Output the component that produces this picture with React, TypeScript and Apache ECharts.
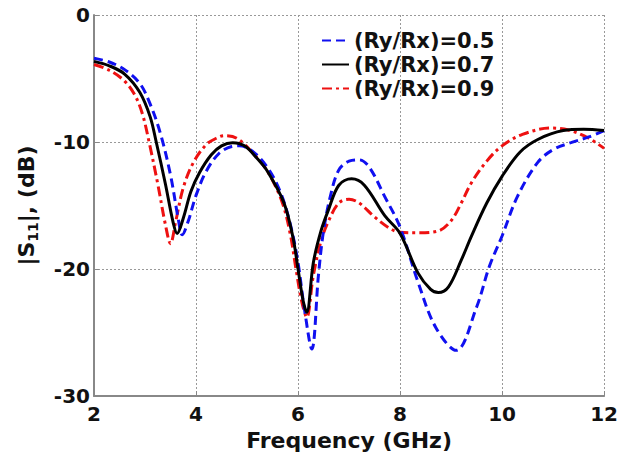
import React, { useEffect, useRef } from "react";
import * as echarts from "echarts";

const seriesNames = ["(Ry/Rx)=0.5", "(Ry/Rx)=0.7", "(Ry/Rx)=0.9"];
const xTicks = [2, 4, 6, 8, 10, 12];
const yTicks = [-30, -20, -10, 0];

const freq05 = [2.0, 2.3, 2.6, 2.9, 3.1, 3.3, 3.5, 3.65, 3.73, 3.85, 4.0, 4.2, 4.45, 4.7, 4.85, 5.1, 5.4, 5.65, 5.85, 6.0, 6.12, 6.27, 6.4, 6.5, 6.65, 6.8, 7.0, 7.2, 7.4, 7.7, 8.0, 8.35, 8.7, 9.1, 9.5, 9.75, 10.0, 10.3, 10.7, 11.0, 11.35, 11.7, 12.0];
const s11_05 = [-3.4, -3.7, -4.3, -5.4, -7.0, -9.3, -12.6, -16.0, -17.3, -16.2, -14.2, -12.3, -10.9, -10.35, -10.3, -10.7, -12.0, -13.9, -16.5, -19.5, -23.0, -26.3, -20.5, -17.0, -14.0, -12.2, -11.5, -11.4, -12.0, -14.3, -16.7, -21.0, -24.6, -26.4, -23.0, -19.8, -17.4, -14.3, -11.6, -10.6, -10.05, -9.6, -9.1];

const freq07 = [2.0, 2.3, 2.6, 2.9, 3.1, 3.22, 3.4, 3.55, 3.63, 3.75, 3.9, 4.07, 4.3, 4.5, 4.72, 4.95, 5.2, 5.4, 5.72, 5.9, 6.0, 6.1, 6.17, 6.3, 6.45, 6.6, 6.8, 7.05, 7.3, 7.7, 8.0, 8.35, 8.6, 8.75, 8.95, 9.2, 9.4, 9.7, 10.0, 10.35, 10.7, 11.2, 11.6, 12.0];
const s11_07 = [-3.65, -4.0, -4.65, -6.1, -8.0, -10.0, -13.3, -16.3, -17.2, -16.0, -13.9, -12.4, -11.0, -10.3, -10.05, -10.3, -11.3, -12.3, -14.75, -17.5, -20.0, -22.5, -23.4, -19.5, -17.0, -15.3, -13.4, -12.9, -13.4, -15.8, -17.2, -20.3, -21.6, -21.85, -21.4, -19.3, -17.4, -14.8, -12.7, -10.8, -9.8, -9.1, -9.0, -9.1];

const freq09 = [2.0, 2.3, 2.6, 2.8, 2.95, 3.08, 3.25, 3.4, 3.5, 3.6, 3.75, 3.95, 4.2, 4.4, 4.55, 4.8, 5.1, 5.4, 5.69, 5.85, 5.96, 6.07, 6.17, 6.3, 6.45, 6.6, 6.8, 7.0, 7.2, 7.5, 7.8, 8.0, 8.35, 8.75, 9.0, 9.2, 9.4, 9.7, 10.0, 10.4, 10.95, 11.3, 11.7, 12.0];
const s11_09 = [-3.9, -4.35, -5.2, -6.3, -7.8, -10.0, -13.3, -16.5, -18.0, -16.3, -13.6, -11.6, -10.2, -9.7, -9.5, -9.7, -10.8, -12.3, -14.75, -17.3, -20.0, -22.5, -23.8, -20.5, -17.8, -16.2, -14.8, -14.5, -14.8, -15.9, -16.8, -17.1, -17.15, -17.0, -16.2, -14.8, -13.2, -11.5, -10.3, -9.4, -8.9, -9.05, -9.7, -10.5];

const zip = (xs: number[], ys: number[]) => xs.map((x, i) => [x, ys[i]]);

const FONT = "DejaVu Sans";

export default function App() {
  const ref = useRef<HTMLDivElement>(null);
  useEffect(() => {
    document.body.style.margin = "0";
    const chart = echarts.init(ref.current!, undefined, { renderer: "svg" });
    const common = { type: "line", showSymbol: false, symbol: "none", smooth: 0.35 };
    chart.setOption({
      animation: false,
      backgroundColor: "#fff",
      textStyle: { fontFamily: FONT },
      grid: { left: 94, top: 15, right: 14, bottom: 58 },
      legend: {
        orient: "vertical",
        left: 316,
        top: 25,
        itemWidth: 27,
        itemHeight: 14,
        itemGap: 3,
        itemStyle: { opacity: 0 },
        textStyle: { fontFamily: FONT, fontWeight: "bold", fontSize: 21, color: "#111" },
        data: seriesNames,
      },
      xAxis: {
        type: "value",
        min: xTicks[0],
        max: xTicks[xTicks.length - 1],
        interval: 2,
        name: "Frequency (GHz)",
        nameLocation: "middle",
        nameGap: 27,
        nameTextStyle: { fontFamily: FONT, fontWeight: "bold", fontSize: 22, color: "#111" },
        axisLine: { onZero: false, lineStyle: { color: "#888", width: 2 } },
        axisTick: { inside: true, length: 5, lineStyle: { color: "#888" } },
        axisLabel: { fontFamily: FONT, fontWeight: "bold", fontSize: 20, color: "#111", margin: 8 },
        splitLine: { show: true, lineStyle: { color: "#999", type: [2, 2], width: 1 } },
      },
      yAxis: {
        type: "value",
        min: yTicks[0],
        max: yTicks[yTicks.length - 1],
        interval: 10,
        name: "|S{sub|11}|, (dB)",
        nameLocation: "middle",
        nameGap: 54,
        nameRotate: 90,
        nameTextStyle: {
          fontFamily: FONT,
          fontWeight: "bold",
          fontSize: 22,
          color: "#111",
          rich: {
            sub: { fontFamily: FONT, fontWeight: "bold", fontSize: 14, color: "#111", padding: [14, 0, 0, 0] },
          },
        },
        axisLine: { show: true, lineStyle: { color: "#888", width: 2 } },
        axisTick: { inside: true, length: 5, lineStyle: { color: "#888" } },
        axisLabel: { fontFamily: FONT, fontWeight: "bold", fontSize: 20, color: "#111", margin: 4 },
        splitLine: { show: true, lineStyle: { color: "#999", type: [2, 2], width: 1 } },
      },
      series: [
        {
          ...common,
          name: seriesNames[0],
          data: zip(freq05, s11_05),
          itemStyle: { color: "#1010f0" },
          lineStyle: { color: "#1010f0", width: 3, type: [9, 5] },
          z: 3,
        },
        {
          ...common,
          name: seriesNames[1],
          data: zip(freq07, s11_07),
          itemStyle: { color: "#000" },
          lineStyle: { color: "#000", width: 3, type: "solid" },
          z: 4,
        },
        {
          ...common,
          name: seriesNames[2],
          data: zip(freq09, s11_09),
          itemStyle: { color: "#ee1111" },
          lineStyle: { color: "#ee1111", width: 3, type: [10, 4, 3, 4] },
          z: 2,
        },
      ],
    });
    return () => chart.dispose();
  }, []);
  return <div ref={ref} style={{ width: 621, height: 456 }} />;
}
